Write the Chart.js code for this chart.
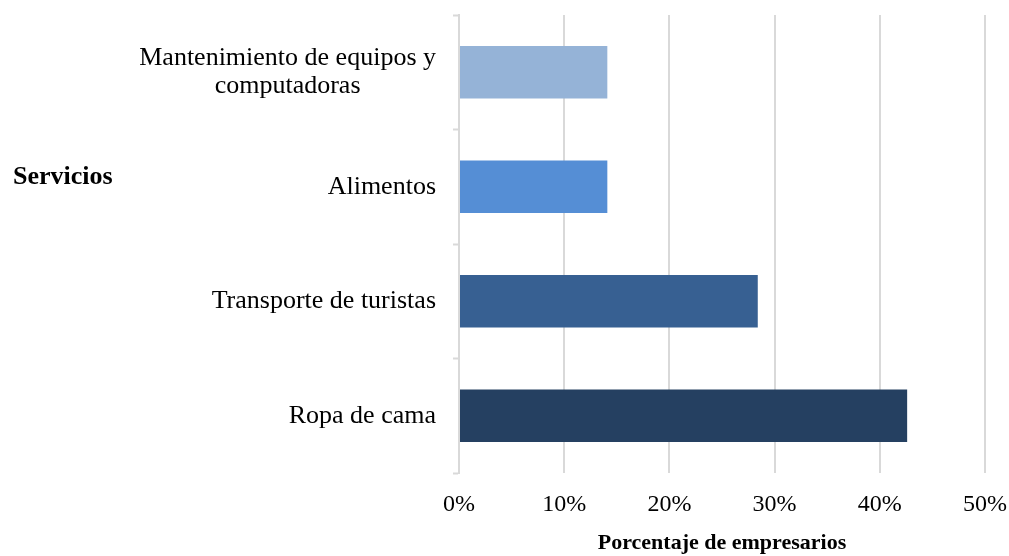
<!DOCTYPE html>
<html>
<head>
<meta charset="utf-8">
<script src="https://cdn.jsdelivr.net/npm/chart.js@4/dist/chart.umd.min.js"></script>
<style>
  html, body { margin: 0; padding: 0; background: #ffffff; }
  #wrap { width: 1009px; height: 556px; position: relative; }
</style>
</head>
<body>
<div id="wrap"><canvas id="c" width="1009" height="556"></canvas></div>
<script>
// ---- data ----
const categories = [
  ['Mantenimiento de equipos y', 'computadoras'],
  ['Alimentos'],
  ['Transporte de turistas'],
  ['Ropa de cama']
];
const values = [14.1, 14.1, 28.4, 42.6];
const barColors = ['#95B3D7', '#558ED5', '#376092', '#254061'];
const xTicks = [0, 10, 20, 30, 40, 50];
const yTitle = 'Servicios';
const xTitle = 'Porcentaje de empresarios';

const FONT = '"Liberation Serif", "Times New Roman", Times, serif';

// draws category labels (multi-line, lines centred within a right-aligned block) and the horizontal y title
const labelPlugin = {
  id: 'labelPlugin',
  afterDraw(chart) {
    const ctx = chart.ctx;
    const y = chart.scales.y;
    ctx.save();
    ctx.fillStyle = '#000000';
    ctx.font = '26px ' + FONT;
    ctx.textBaseline = 'middle';
    ctx.textAlign = 'center';
    const rightEdge = y.right - 23;
    const lh = 28.5;
    categories.forEach((lines, i) => {
      const cy = y.getPixelForValue(i);
      const w = Math.max(...lines.map(l => ctx.measureText(l).width));
      const cx = rightEdge - w / 2;
      const n = lines.length;
      lines.forEach((l, k) => {
        ctx.fillText(l, cx, cy + (k - (n - 1) / 2) * lh);
      });
    });
    ctx.font = 'bold 26px ' + FONT;
    ctx.textAlign = 'left';
    ctx.fillText(yTitle, 13, 177);
    ctx.restore();
  }
};

new Chart(document.getElementById('c'), {
  type: 'bar',
  data: {
    labels: categories.map(c => c.join(' ')),
    datasets: [{
      data: values,
      backgroundColor: barColors,
      borderWidth: 0,
      categoryPercentage: 1.0,
      barPercentage: 0.46
    }]
  },
  options: {
    indexAxis: 'y',
    responsive: false,
    animation: false,
    devicePixelRatio: 1,
    layout: { padding: { top: 15, right: 0, left: 0, bottom: 0 } },
    plugins: {
      legend: { display: false },
      tooltip: { enabled: false },
      title: { display: false }
    },
    scales: {
      x: {
        type: 'linear',
        min: 0,
        max: 50,
        afterBuildTicks(scale) { scale.ticks = xTicks.map(v => ({ value: v })); },
        afterFit(scale) { scale.height = 83; scale.paddingRight = 24; scale.paddingLeft = 0; },
        border: { display: false },
        grid: {
          color: '#d9d9d9',
          lineWidth: 2,
          drawTicks: false
        },
        ticks: {
          padding: 17,
          maxRotation: 0,
          color: '#000000',
          font: { family: FONT, size: 24 },
          callback: v => v + '%'
        },
        title: {
          display: true,
          text: xTitle,
          color: '#000000',
          font: { family: FONT, size: 22, weight: 'bold' },
          padding: { top: 0, bottom: -1 }
        }
      },
      y: {
        type: 'category',
        afterFit(scale) { scale.width = 459; },
        border: { display: true, color: '#d9d9d9', width: 2 },
        grid: {
          display: true,
          offset: true,
          drawOnChartArea: false,
          drawTicks: true,
          tickLength: 6,
          tickWidth: 2,
          color: '#d9d9d9'
        },
        ticks: { display: false }
      }
    }
  },
  plugins: [labelPlugin]
});
</script>
</body>
</html>
